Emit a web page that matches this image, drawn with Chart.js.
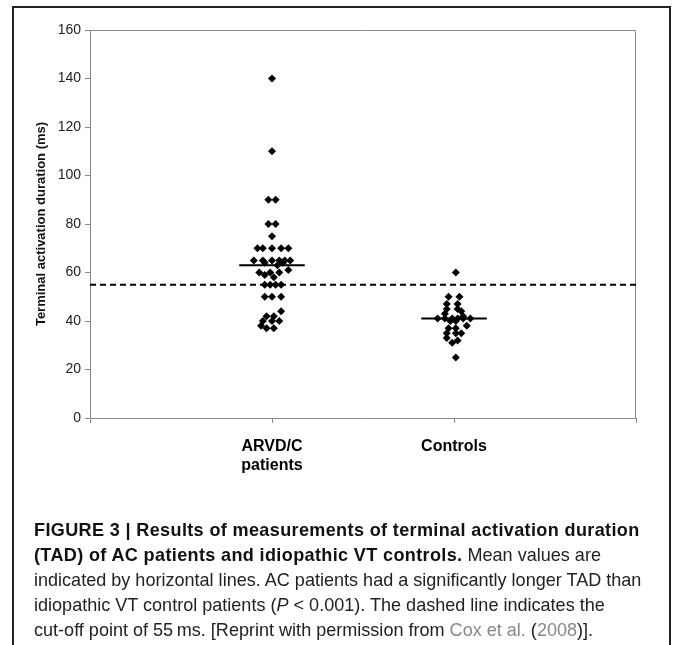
<!DOCTYPE html>
<html>
<head>
<meta charset="utf-8">
<script src="https://cdn.jsdelivr.net/npm/chart.js@4"></script>
<style>
  body { margin: 0; background: #fff; width: 673px; height: 645px; overflow: hidden; position: relative; }
  #frame { position: absolute; left: 12px; top: 6px; width: 659px; height: 700px; border: 2px solid #222; box-sizing: border-box; pointer-events: none; }
  #wrap { position: absolute; left: 0; top: 0; width: 673px; height: 490px; }
  #caption { position: absolute; left: 34px; top: 517px; font-family: Arial, "Liberation Sans", sans-serif; font-size: 19px; line-height: 25px; color: #222; white-space: nowrap; transform: scaleX(0.95); transform-origin: 0 0; }
  #caption b { color: #111; letter-spacing: 0.38px; }
  #caption .ref { color: #888; }
</style>
</head>
<body>
<div id="wrap"><canvas id="tadChart"></canvas></div>
<div id="frame"></div>
<div id="caption">
<b>FIGURE 3 | Results of measurements of terminal activation duration<br>(TAD) of AC patients and idiopathic VT controls.</b> Mean values are<br>indicated by horizontal lines. AC patients had a significantly longer TAD than<br>idiopathic VT control patients (<i>P</i> &lt; 0.001). The dashed line indicates the<br>cut-off point of 55&#8201;ms. [Reprint with permission from <span class="ref">Cox et al.</span> (<span class="ref">2008</span>)].
</div>
<script>
// categories sit at x = 1 and x = 2 on a 0..3 axis
const categories = [["ARVD/C", "patients"], "Controls"];
const yMin = 0, yMax = 160, yStep = 20;
const cutoff = 55;
const meanValues = [63, 41];

// [x, TAD in ms]
const arvdcPoints = [
  [1.00, 140], [1.00, 110], [0.98, 90], [1.02, 90], [0.98, 80], [1.02, 80], [1.00, 75],
  [0.92, 70], [0.95, 70], [1.00, 70], [1.05, 70], [1.09, 70],
  [0.90, 65], [0.95, 65], [1.00, 65], [1.04, 65], [1.07, 65], [1.10, 65],
  [0.96, 64], [1.03, 63], [1.06, 64],
  [0.93, 60], [0.96, 59], [0.99, 60], [1.01, 58], [1.04, 60], [1.09, 61],
  [0.96, 55], [0.99, 55], [1.02, 55], [1.05, 55],
  [0.96, 50], [1.00, 50], [1.05, 50],
  [1.05, 44], [0.97, 42], [1.01, 42], [0.95, 40], [1.00, 40], [1.04, 40],
  [0.94, 38], [0.97, 37], [1.01, 37]
];
const controlPoints = [
  [2.01, 60], [1.97, 50], [2.03, 50], [1.96, 47], [2.02, 47], [1.96, 45], [2.02, 45],
  [2.04, 44], [1.95, 43], [2.05, 42],
  [1.91, 41], [1.95, 41], [1.99, 41], [2.02, 41], [2.05, 41], [2.09, 41],
  [1.98, 40], [2.01, 40], [2.07, 38], [1.97, 37], [2.01, 37],
  [1.96, 35], [2.01, 35], [2.04, 35], [1.96, 33], [2.02, 32], [1.99, 31], [2.01, 25]
];

const meanHalf = 0.18;
const toXY = p => ({ x: p[0], y: p[1] });

const diamond = {
  pointStyle: "rectRot", pointRadius: 4, pointHoverRadius: 4,
  backgroundColor: "#000", borderColor: "#000", borderWidth: 0, showLine: false
};

// gray box round the plot area (top and right sides)
const plotBox = {
  id: "plotBox",
  beforeDatasetsDraw(chart) {
    const a = chart.chartArea, ctx = chart.ctx;
    ctx.save();
    ctx.strokeStyle = "#8a8a8a";
    ctx.lineWidth = 1;
    ctx.beginPath();
    ctx.moveTo(a.left, a.top + 0.5);
    ctx.lineTo(a.right - 0.5, a.top + 0.5);
    ctx.lineTo(a.right - 0.5, a.bottom);
    ctx.stroke();
    ctx.restore();
  }
};

const datasets = [
  Object.assign({ label: "ARVD/C", data: arvdcPoints.map(toXY) }, diamond),
  Object.assign({ label: "Controls", data: controlPoints.map(toXY) }, diamond),
  {
    type: "line", label: "cut-off",
    data: [{ x: 0, y: cutoff }, { x: 3, y: cutoff }],
    borderColor: "#000", borderWidth: 2, borderDash: [6, 4], pointRadius: 0
  }
];
meanValues.forEach((m, i) => {
  datasets.push({
    type: "line", label: "mean " + i,
    data: [{ x: i + 1 - meanHalf, y: m }, { x: i + 1 + meanHalf, y: m }],
    borderColor: "#000", borderWidth: 2, pointRadius: 0
  });
});

new Chart(document.getElementById("tadChart"), {
  type: "scatter",
  data: { datasets: datasets },
  options: {
    responsive: true,
    maintainAspectRatio: false,
    animation: false,
    layout: { padding: { left: 0, right: 37, top: 30, bottom: 0 } },
    plugins: { legend: { display: false }, tooltip: { enabled: false } },
    scales: {
      x: {
        type: "linear", min: 0, max: 3,
        ticks: {
          stepSize: 1, padding: 14, color: "#000",
          font: { family: "Arial, 'Liberation Sans', sans-serif", size: 16, weight: "bold", lineHeight: 1.2 },
          maxRotation: 0,
          callback: v => (v === 1 || v === 2) ? categories[v - 1] : ""
        },
        grid: { drawOnChartArea: false, drawTicks: true, tickLength: 5, color: "#8a8a8a" },
        border: { color: "#8a8a8a", width: 1 },
        afterFit: s => { s.height = 72; }
      },
      y: {
        min: yMin, max: yMax,
        ticks: {
          stepSize: yStep, padding: 4, color: "#222",
          font: { family: "Arial, 'Liberation Sans', sans-serif", size: 14 }
        },
        grid: { drawOnChartArea: false, drawTicks: true, tickLength: 5, color: "#8a8a8a" },
        border: { color: "#8a8a8a", width: 1 },
        title: {
          display: true, text: "Terminal activation duration (ms)", color: "#111",
          font: { family: "Arial, 'Liberation Sans', sans-serif", size: 13, weight: "bold" },
          padding: { top: 34, bottom: 0 }
        },
        afterFit: s => { s.width = 90; }
      }
    }
  },
  plugins: [plotBox]
});
</script>
</body>
</html>
